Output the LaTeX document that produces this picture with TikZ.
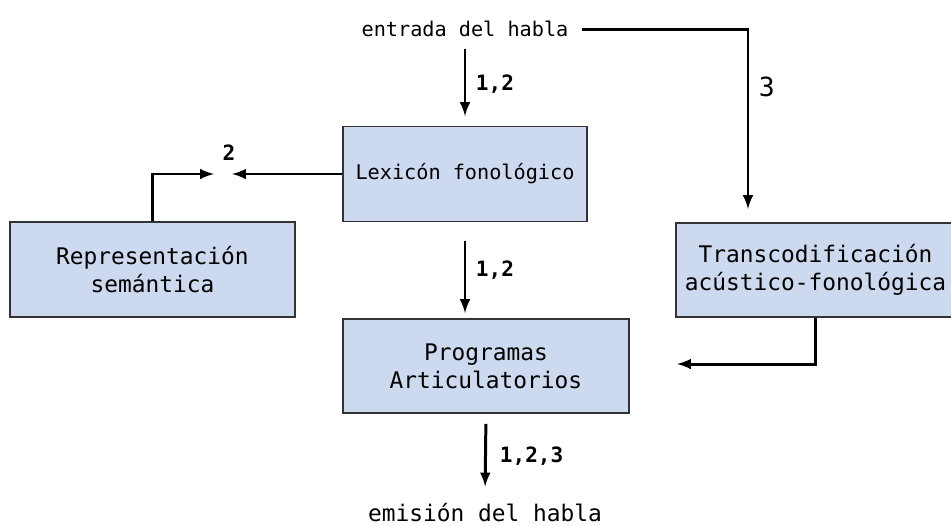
\documentclass[tikz,border=0pt]{standalone}
\usepackage{fontspec}
\setmonofont{DejaVu Sans Mono}
\usetikzlibrary{arrows,calc}
\definecolor{boxblue}{RGB}{205,217,238}

\begin{document}
\begin{tikzpicture}[x=0.02cm,y=-0.02cm,>=latex,font=\ttfamily\fontsize{13}{16}\selectfont]
	\tikzstyle{box} = [draw=black!80, fill=boxblue, line width=1.1pt, align=center, inner sep=0pt]
	\tikzstyle{conn} = [->, line width=1.7pt]
	\tikzstyle{num} = [font=\ttfamily\bfseries\fontsize{12}{14}\selectfont]
	\tikzstyle{small} = [font=\ttfamily\fontsize{11.5}{14}\selectfont]
	\useasboundingbox (0,0) rectangle (951,525);
	% boxes
	\node[box, small, minimum width=4.88cm, minimum height=1.9cm] (lex) at (465,174) {Lexicón fonológico};
	\node[box, minimum width=5.72cm, minimum height=1.88cm] (prog) at (486,366) {Programas\\Articulatorios};
	\node[box, minimum width=5.7cm, minimum height=1.9cm] (rep) at (152.5,269.5) {Representación\\semántica};
	\node[box, minimum width=5.58cm, minimum height=1.88cm] (trans) at (815.5,270) {Transcodificación\\acústico-fonológica};
	\node[small] (entrada) at (465,29) {entrada del habla};
	\node (emision) at (485,513) {emisión del habla};
	\coordinate (c3) at (748,29.5);
	\coordinate (m) at (223,174);
	\coordinate (t) at (677,364);
	% connectors
	\draw[conn, shorten <=.12cm, shorten >=.19cm] (entrada.south) -- node[num, right, xshift=2pt] {1,2} (lex.north);
	\draw[conn, shorten <=.15cm, shorten >=.26cm] (entrada.east |- c3) -- (c3) -- node[right, pos=.3, xshift=2pt, font=\ttfamily\fontsize{15}{18}\selectfont] (lab3) {3} (c3 |- trans.north);
	\draw[conn, shorten >=.18cm] (lex.west) -- (m);
	\draw[conn, shorten >=.18cm] (rep.north) |- (m);
	\node[num] (lab2) at ($(m)+(6,-21)$) {2};
	\draw[conn, shorten <=.38cm, shorten >=.1cm] (lex.south) -- node[num, right, xshift=2pt] {1,2} (lex.south |- prog.north);
	\draw[conn] (trans.south) |- (t);
	\draw[conn, shorten <=.2cm, shorten >=.22cm] (prog.south) -- node[num, right, xshift=4pt] {1,2,3} (emision.north);
\end{tikzpicture}
\end{document}
